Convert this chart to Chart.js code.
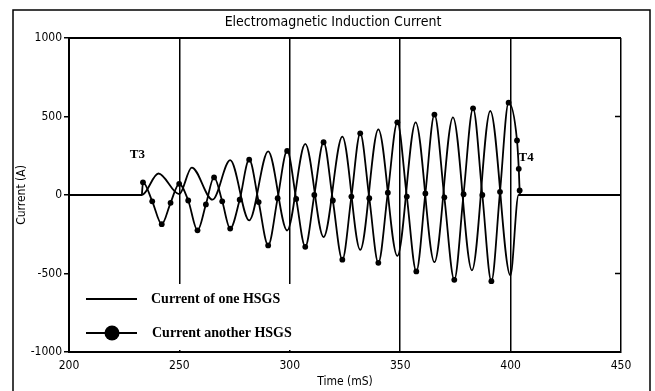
<!DOCTYPE html>
<html>
<head>
<meta charset="utf-8">
<script src="https://cdn.jsdelivr.net/npm/chart.js@4.4.1/dist/chart.umd.min.js"></script>
<style>
  html, body { margin: 0; padding: 0; background: #ffffff; }
  #wrap { width: 655px; height: 391px; }
</style>
</head>
<body>
<div id="wrap"><canvas id="c" width="655" height="391"></canvas></div>
<script>
// ---- data ----
const chartTitle = 'Electromagnetic Induction Current';
const xTicks = [200, 250, 300, 350, 400, 450];
const yTicks = [-1000, -500, 0, 500, 1000];
const seriesNames = ['Current of one HSGS', 'Current another HSGS'];

// Current of one HSGS (plain line): time (ms) and current (A)
const lineTimes = [200, 233.0, 240.5, 249.9, 255.6, 265.0, 273.0, 281.6, 290.2, 298.8, 307.0, 315.3, 323.8, 331.9, 340.1, 348.7, 357.0, 365.5, 373.9, 382.5, 390.8, 399.9, 403.6, 450];
const lineValues = [0, 0, 137, 5, 175, -30, 222, -162, 278, -226, 326, -268, 372, -350, 418, -388, 463, -428, 495, -480, 535, -512, 0, 0];

// Current another HSGS (line with dots)
const markerTimes = [233.0, 233.5, 237.7, 242.0, 246.0, 249.9, 254.0, 258.2, 262.0, 265.7, 269.4, 273.0, 277.3, 281.6, 285.9, 290.2, 294.5, 298.8, 302.9, 307.0, 311.1, 315.3, 319.5, 323.8, 327.9, 331.9, 336.0, 340.1, 344.4, 348.7, 353.0, 357.3, 361.4, 365.5, 370.0, 374.5, 378.7, 383.0, 387.2, 391.3, 395.2, 399.1, 402.9, 403.7, 404.1, 404.5, 450];
const markerValues = [0, 81, -40, -186, -50, 71, -35, -225, -60, 112, -40, -214, -30, 225, -45, -321, -20, 281, -25, -330, 0, 336, -35, -412, -10, 393, -20, -432, 15, 463, -10, -487, 10, 512, -15, -540, 5, 552, 0, -549, 20, 588, 347, 167, 29, 0, 0];

const annotations = [{ text: 'T3', x: 231, y: 255 }, { text: 'T4', x: 407, y: 235 }];

const toPts = (xs, ys) => xs.map((x, i) => ({ x: x, y: ys[i] }));

const NARROW = "'Liberation Sans Narrow', 'DejaVu Sans Condensed', 'Arial Narrow', sans-serif";
const SERIF = "'Liberation Serif', 'DejaVu Serif', serif";

const decorPlugin = {
  id: 'decor',
  afterDraw(chart) {
    const ctx = chart.ctx;
    const a = chart.chartArea;
    const xs = chart.scales.x, ys = chart.scales.y;
    ctx.save();
    // outer frame
    ctx.strokeStyle = '#000';
    ctx.lineWidth = 1.5;
    ctx.beginPath();
    ctx.moveTo(13, 391); ctx.lineTo(13, 10); ctx.lineTo(650, 10); ctx.lineTo(650, 391);
    ctx.stroke();
    // plot top border
    ctx.lineWidth = 2;
    ctx.beginPath();
    ctx.moveTo(a.left, a.top); ctx.lineTo(a.right, a.top);
    ctx.stroke();
    // right inward ticks
    ctx.lineWidth = 1.5;
    [500, -500].forEach(v => {
      const py = ys.getPixelForValue(v);
      ctx.beginPath(); ctx.moveTo(a.right - 6, py); ctx.lineTo(a.right, py); ctx.stroke();
    });
    // title
    ctx.fillStyle = '#000';
    ctx.font = '14px ' + NARROW;
    ctx.textAlign = 'center';
    ctx.textBaseline = 'middle';
    ctx.fillText(chartTitle, 333, 22);
    // annotations
    ctx.font = 'bold 13px ' + SERIF;
    annotations.forEach(t => {
      ctx.fillText(t.text, xs.getPixelForValue(t.x), ys.getPixelForValue(t.y));
    });
    // legend box
    ctx.fillStyle = '#fff';
    ctx.fillRect(76, 284, 230, 66);
    ctx.fillStyle = '#000';
    ctx.strokeStyle = '#000';
    ctx.lineWidth = 2;
    ctx.beginPath(); ctx.moveTo(86, 299); ctx.lineTo(137, 299); ctx.stroke();
    ctx.beginPath(); ctx.moveTo(86, 333); ctx.lineTo(137, 333); ctx.stroke();
    ctx.beginPath(); ctx.arc(112, 333, 7.5, 0, Math.PI * 2); ctx.fill();
    ctx.font = 'bold 14px ' + SERIF;
    ctx.textAlign = 'left';
    ctx.fillText(seriesNames[0], 151, 299);
    ctx.fillText(seriesNames[1], 152, 333);
    ctx.restore();
  }
};

new Chart(document.getElementById('c'), {
  type: 'scatter',
  data: {
    datasets: [
      {
        label: seriesNames[0],
        data: toPts(lineTimes, lineValues),
        showLine: true,
        borderColor: '#000',
        borderWidth: 1.8,
        pointRadius: 0,
        cubicInterpolationMode: 'monotone'
      },
      {
        label: seriesNames[1],
        data: toPts(markerTimes, markerValues),
        showLine: true,
        borderColor: '#000',
        backgroundColor: '#000',
        borderWidth: 1.8,
        pointRadius: ctx => (ctx.dataIndex === 0 || ctx.dataIndex >= markerTimes.length - 2) ? 0 : 2.9,
        pointBorderWidth: 0,
        cubicInterpolationMode: 'monotone'
      }
    ]
  },
  options: {
    responsive: false,
    animation: false,
    devicePixelRatio: 1,
    layout: { padding: { top: 38, right: 34, left: 0, bottom: 0 } },
    plugins: { legend: { display: false }, title: { display: false }, tooltip: { enabled: false } },
    scales: {
      x: {
        type: 'linear',
        min: xTicks[0], max: xTicks[xTicks.length - 1],
        afterBuildTicks: s => { s.ticks = xTicks.map(v => ({ value: v })); },
        afterFit: s => { s.height = 39; },
        ticks: { color: '#000', font: { family: NARROW, size: 12 }, padding: 7, maxRotation: 0, callback: v => String(v) },
        grid: { color: '#000', lineWidth: 1.5, drawTicks: false, drawOnChartArea: true },
        border: { display: true, color: '#000', width: 2 },
        title: { display: true, text: 'Time (mS)', color: '#000', font: { family: NARROW, size: 12 }, padding: { top: 0, bottom: 2 } }
      },
      y: {
        type: 'linear',
        min: yTicks[0], max: yTicks[yTicks.length - 1],
        afterBuildTicks: s => { s.ticks = yTicks.map(v => ({ value: v })); },
        afterFit: s => { s.width = 69; },
        ticks: { color: '#000', font: { family: NARROW, size: 12 }, padding: 2, callback: v => String(v) },
        grid: { color: '#000', lineWidth: 1.5, drawTicks: true, tickLength: 5, drawOnChartArea: false },
        border: { display: true, color: '#000', width: 2 },
        title: { display: true, text: 'Current (A)', color: '#000', font: { family: NARROW, size: 12 }, padding: { top: 15, bottom: 0 } }
      }
    }
  },
  plugins: [decorPlugin]
});
</script>
</body>
</html>
